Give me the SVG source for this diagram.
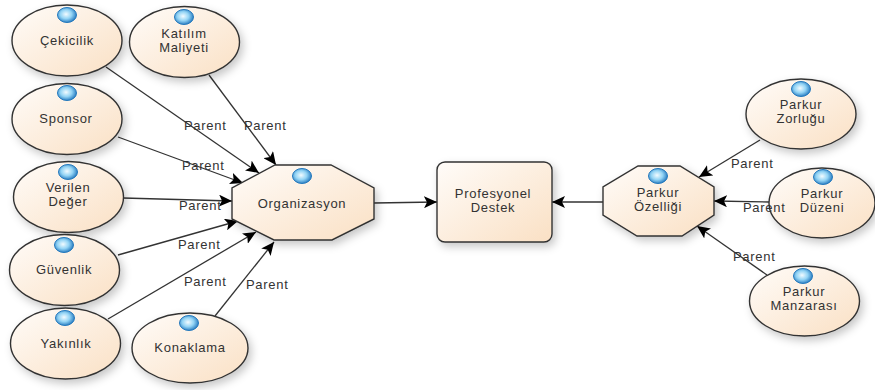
<svg xmlns="http://www.w3.org/2000/svg" width="875" height="390" viewBox="0 0 875 390">
<style>
text{font-family:"Liberation Sans",Arial,sans-serif;font-size:13px;fill:#333;letter-spacing:.7px}
.n{text-anchor:middle}
.s{fill:url(#peach);stroke:#333;stroke-width:1.4;filter:url(#shadow)}
.c{fill:none;stroke:#333;stroke-width:1.3;marker-end:url(#arrow)}
</style>
<defs>
<linearGradient id="peach" x1="0" y1="0" x2="1" y2="1"><stop offset="0" stop-color="#fffcf9"/><stop offset="1" stop-color="#fae0c4"/></linearGradient>
<radialGradient id="dot" cx=".45" cy=".45" r=".6"><stop offset="0" stop-color="#f2fbff"/><stop offset=".5" stop-color="#93d4f5"/><stop offset="1" stop-color="#1a70ba"/></radialGradient>
<filter id="shadow" x="-15%" y="-15%" width="135%" height="135%"><feDropShadow dx="3" dy="4" stdDeviation="4" flood-color="#000" flood-opacity=".22"/></filter>
<marker id="arrow" markerUnits="userSpaceOnUse" markerWidth="14" markerHeight="12" refX="13" refY="6" orient="auto"><path d="M0 0L13 6L0 12L3 6Z" fill="#000"/></marker>
<ellipse id="d" rx="9.500" ry="7.500" fill="url(#dot)" stroke="#2479bd" stroke-width="1"/>
</defs>
<g id="connectors">
<path class="c" d="M106 67L259 173"/>
<path class="c" d="M209 75L276 165"/>
<path class="c" d="M118 137L243 183"/>
<path class="c" d="M123 198L232 201"/>
<path class="c" d="M118 255L238 221"/>
<path class="c" d="M108 319L256 232"/>
<path class="c" d="M215 316L274 242"/>
<path class="c" d="M374 203L437 202"/>
<path class="c" d="M603 202L552 202"/>
<path class="c" d="M760 140L699 177"/>
<path class="c" d="M769 202L714 201"/>
<path class="c" d="M767 275L697 226"/>
</g>
<g id="cekicilik"><ellipse class="s" cx="67" cy="40.500" rx="55" ry="35.500"/><use href="#d" x="67" y="15"/><text class="n" x="67" y="45">Çekicilik</text></g>
<g id="katilim"><ellipse class="s" cx="184.500" cy="42" rx="55" ry="35.500"/><use href="#d" x="184" y="17"/><text class="n" x="184" y="38">Katılım</text><text class="n" x="184" y="52">Maliyeti</text></g>
<g id="sponsor"><ellipse class="s" cx="67" cy="119" rx="55" ry="35.500"/><use href="#d" x="67" y="93"/><text class="n" x="66" y="123">Sponsor</text></g>
<g id="verilen"><ellipse class="s" cx="68.500" cy="197" rx="55" ry="35.500"/><use href="#d" x="68" y="172"/><text class="n" x="68" y="192">Verilen</text><text class="n" x="68" y="206">Değer</text></g>
<g id="guvenlik"><ellipse class="s" cx="64.500" cy="270" rx="55" ry="35.500"/><use href="#d" x="64" y="245"/><text class="n" x="64" y="274">Güvenlik</text></g>
<g id="yakinlik"><ellipse class="s" cx="65.500" cy="343.500" rx="55" ry="35.500"/><use href="#d" x="65" y="318"/><text class="n" x="66" y="348">Yakınlık</text></g>
<g id="konaklama"><ellipse class="s" cx="190" cy="348" rx="58" ry="35"/><use href="#d" x="189" y="323"/><text class="n" x="190" y="352">Konaklama</text></g>
<g id="organizasyon"><polygon class="s" points="275,165 331,165 374,188 374,219 332,240 274,240 232,219 232,188"/><use href="#d" x="302" y="176"/><text class="n" x="302" y="208">Organizasyon</text></g>
<g id="profesyonel"><rect class="s" x="437" y="162" width="115" height="80" rx="8"/><text class="n" x="493" y="198">Profesyonel</text><text class="n" x="493" y="212">Destek</text></g>
<g id="ozelligi"><polygon class="s" points="638,166 680,166 714,187 714,215 682,236 637,236 603,215 603,187"/><use href="#d" x="658" y="176"/><text class="n" x="658" y="197">Parkur</text><text class="n" x="658" y="211">Özelliği</text></g>
<g id="zorlugu"><ellipse class="s" cx="801" cy="114" rx="55" ry="35"/><use href="#d" x="801" y="89"/><text class="n" x="801" y="109">Parkur</text><text class="n" x="801" y="123">Zorluğu</text></g>
<g id="duzeni"><ellipse class="s" cx="822" cy="203" rx="53" ry="35"/><use href="#d" x="823" y="177"/><text class="n" x="822" y="198">Parkur</text><text class="n" x="822" y="212">Düzeni</text></g>
<g id="manzarasi"><ellipse class="s" cx="804.500" cy="301" rx="55" ry="35"/><use href="#d" x="803" y="276"/><text class="n" x="804" y="296">Parkur</text><text class="n" x="804" y="310">Manzarası</text></g>
<g id="labels">
<text x="184" y="130">Parent</text>
<text x="244" y="130">Parent</text>
<text x="182" y="170">Parent</text>
<text x="179" y="210">Parent</text>
<text x="178" y="249">Parent</text>
<text x="184" y="286">Parent</text>
<text x="246" y="289">Parent</text>
<text x="731" y="168">Parent</text>
<text x="743" y="212">Parent</text>
<text x="733" y="261">Parent</text>
</g>
</svg>
